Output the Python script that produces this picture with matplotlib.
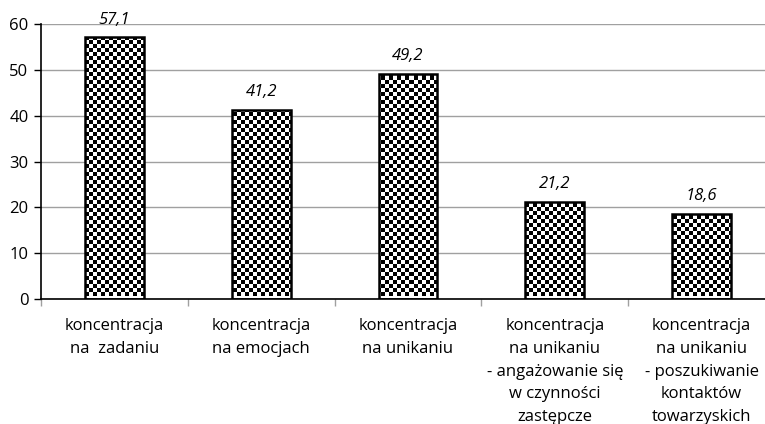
import numpy as np
import matplotlib
matplotlib.use("Agg")
import matplotlib.pyplot as plt

categories = [
    "koncentracja\nna  zadaniu",
    "koncentracja\nna emocjach",
    "koncentracja\nna unikaniu",
    "koncentracja\nna unikaniu\n- angażowanie się\nw czynności\nzastępcze",
    "koncentracja\nna unikaniu\n- poszukiwanie\nkontaktów\ntowarzyskich",
]
values = [57.1, 41.2, 49.2, 21.2, 18.6]
value_labels = ["57,1", "41,2", "49,2", "21,2", "18,6"]
yticks = [0, 10, 20, 30, 40, 50, 60]

plt.rcParams["font.family"] = ["Open Sans", "DejaVu Sans"]

W, H = 765, 424
fig = plt.figure(figsize=(W / 100, H / 100), dpi=100)
left, right, bottom, top = 41, 775, 299, 24
aw, ah = right - left, bottom - top
ax = fig.add_axes([left / W, (H - bottom) / H, aw / W, ah / H])

x = np.arange(len(values))
bars = ax.bar(x, values, width=0.4, facecolor="none", edgecolor="black",
              linewidth=1.8, zorder=3)

# checkerboard fill on a 4-pixel grid, clipped to each bar
cell = 4
nx = aw // cell
ny = ah // cell
checker = (np.add.outer(np.arange(ny), np.arange(nx)) % 2).astype(float)
ext = [0, nx * cell / aw, 1 - ny * cell / ah, 1]
for b in bars:
    im = ax.imshow(checker, cmap="gray", vmin=0, vmax=1, interpolation="nearest",
                   extent=ext, transform=ax.transAxes, aspect="auto",
                   zorder=2)
    im.set_clip_path(b)

for xi, v, lab in zip(x, values, value_labels):
    ax.annotate(lab, (xi, v), xytext=(0, 7), textcoords="offset points",
                ha="center", va="bottom", fontsize=12, fontstyle="italic")

ax.set_xlim(-0.5, len(values) - 0.5)
ax.set_ylim(0, 60)
ax.set_yticks(yticks)
ax.set_yticklabels([str(t) for t in yticks], fontsize=12)
ax.set_xticks(x)
ax.set_xticklabels(categories, fontsize=12, linespacing=1.55)
ax.set_xticks(np.arange(len(values) + 1) - 0.5, minor=True)
ax.tick_params(axis="x", which="major", length=0, pad=14)
ax.tick_params(axis="x", which="minor", length=5, color="#a0a0a0", width=1)
ax.tick_params(axis="y", length=5, width=1, color="black", pad=4)

ax.grid(axis="y", color="#a0a0a0", linewidth=1, zorder=0)
ax.set_axisbelow(True)
for s in ["top", "right"]:
    ax.spines[s].set_visible(False)
ax.spines["left"].set_linewidth(1.2)
ax.spines["bottom"].set_linewidth(1.2)

fig.savefig("out.png", dpi=100)
